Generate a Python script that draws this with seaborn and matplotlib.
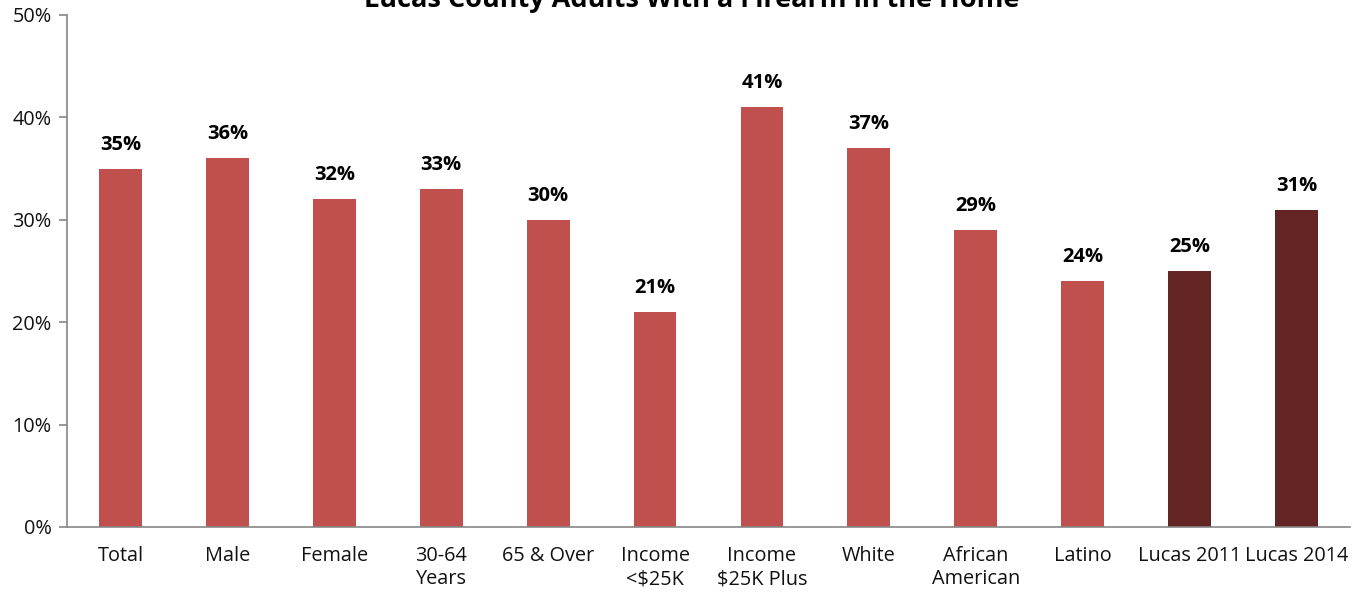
import matplotlib
matplotlib.use("Agg")
import matplotlib.pyplot as plt
import seaborn as sns
import pandas as pd

categories = ["Total", "Male", "Female", "30-64\nYears", "65 & Over", "Income\n<$25K",
              "Income\n$25K Plus", "White", "African\nAmerican", "Latino",
              "Lucas 2011", "Lucas 2014"]
values = [35, 36, 32, 33, 30, 21, 41, 37, 29, 24, 25, 31]
bar_colors = ["#C0504D"] * 10 + ["#632523"] * 2
title = "Lucas County Adults With a Firearm in the Home"

sns.set_theme(style="white")
plt.rcParams["font.family"] = ["Open Sans", "DejaVu Sans"]

df = pd.DataFrame({"group": categories, "pct": values})

fig = plt.figure(figsize=(13.59, 5.92), dpi=100)
ax = fig.add_axes([67 / 1359, 1 - 527 / 592, (1350 - 67) / 1359, (527 - 15) / 592])

sns.barplot(data=df, x="group", y="pct", hue="group", palette=bar_colors,
            legend=False, width=0.4, saturation=1, linewidth=0, ax=ax)

for container in ax.containers:
    ax.bar_label(container, labels=[f"{v:.0f}%" for v in container.datavalues],
                 padding=10, fontsize=14.5, fontweight="bold", color="black")

ax.set_ylim(0, 50)
ax.set_xlim(-0.5, len(categories) - 0.5)
ax.set_yticks(range(0, 51, 10))
ax.set_yticklabels([f"{t}%" for t in range(0, 51, 10)], fontsize=14.3, color="#111111")
ax.set_xticks(range(len(categories)))
ax.set_xticklabels(categories, fontsize=14.3, color="#111111", linespacing=1.2)
ax.set_xlabel("")
ax.set_ylabel("")

# category separators as minor ticks on the x axis
ax.set_xticks([i - 0.5 for i in range(len(categories) + 1)], minor=True)
ax.tick_params(axis="x", which="major", length=0, pad=14)
ax.tick_params(axis="x", which="minor", length=6, width=1.2, color="#868686", direction="out")
ax.tick_params(axis="y", length=6, width=1.2, color="#868686", direction="out", pad=5, left=True)

for side in ["top", "right"]:
    ax.spines[side].set_visible(False)
for side in ["left", "bottom"]:
    ax.spines[side].set_color("#868686")
    ax.spines[side].set_linewidth(1.2)

fig.text(692 / 1359, 1 - 7 / 592, title, ha="center", va="baseline",
         fontsize=19.5, fontweight="bold", color="black")

fig.savefig("out.png", dpi=100, facecolor="white")
